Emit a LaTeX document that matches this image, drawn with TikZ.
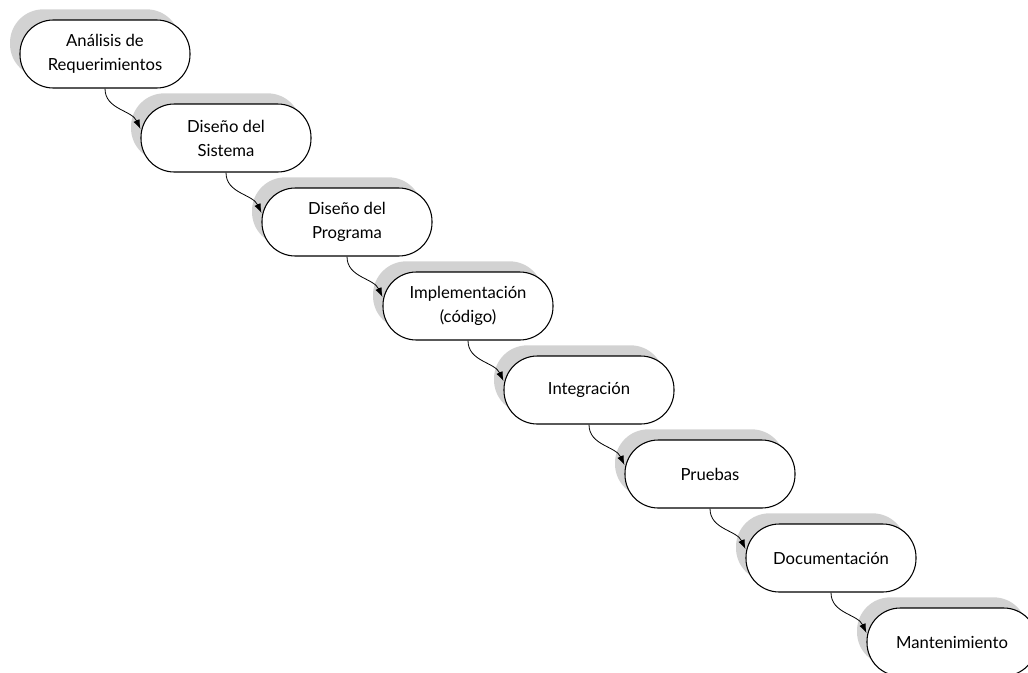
\documentclass[tikz,border=0pt]{standalone}
\usepackage{fontspec}
\setmainfont{Lato}
\usetikzlibrary{arrows.meta,positioning,shadows}

\begin{document}
\begin{tikzpicture}[
  every node/.style={draw, fill=white, line width=0.8pt, rounded corners=25pt,
    minimum width=127.5pt, minimum height=51pt, align=center,
    font=\fontsize{12.5}{18}\selectfont,
    general shadow={fill=gray!35, draw=none, shadow xshift=-7.5pt, shadow yshift=8pt}},
  node distance=63pt and 90.75pt, on grid,
  link/.style={draw, ->, >={Latex[length=7pt,width=5pt]}, line width=0.6pt}
]
\useasboundingbox (0,0) rectangle (771pt,-504pt);
\node (ana) at (78.75pt,-40.5pt) {Análisis de\\Requerimientos};
\node (sis) [below right=of ana] {Diseño del\\Sistema};
\node (pro) [below right=of sis] {Diseño del\\Programa};
\node (imp) [below right=of pro] {Implementación\\(código)};
\node (int) [below right=of imp] {Integración};
\node (pru) [below right=of int] {Pruebas};
\node (doc) [below right=of pru] {Documentación};
\node (man) [below right=of doc] {Mantenimiento};

\foreach \a/\b in {ana/sis, sis/pro, pro/imp, imp/int, int/pru, pru/doc, doc/man}
  \draw[link] (\a.south) to[out=-90, in=115] (\b.174);
\end{tikzpicture}
\end{document}
